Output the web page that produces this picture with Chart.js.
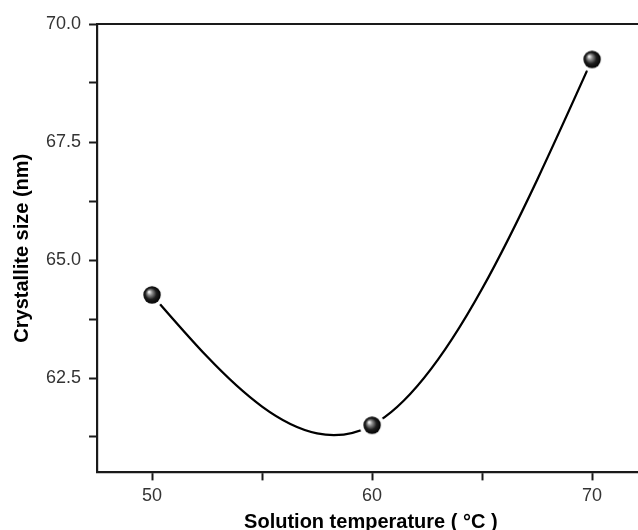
<!DOCTYPE html>
<html>
<head>
<meta charset="utf-8">
<script src="https://cdn.jsdelivr.net/npm/chart.js@4"></script>
<style>
  html, body { margin: 0; padding: 0; background: #fff; overflow: hidden; }
  #wrap { width: 656px; height: 530px; }
</style>
</head>
<body>
<div id="wrap"><canvas id="chart" width="656" height="530"></canvas></div>
<script>
// data
const temperatures = [50, 60, 70];
const crystalliteSizes = [64.26, 61.5, 69.25];

// tick positions (major ones get a label)
const xTickValues = [50, 55, 60, 65, 70];
const xTickLabels = [50, 60, 70];
const yTickValues = [61.25, 62.5, 63.75, 65, 66.25, 67.5, 68.75, 70];
const yTickLabels = [62.5, 65, 67.5, 70];

// black glossy ball with a white ring (so the curve stops short of it)
function makeBall() {
    const c = document.createElement('canvas');
    c.width = 26; c.height = 26;
    const g = c.getContext('2d');
    g.fillStyle = '#fff';
    g.beginPath(); g.arc(13, 13, 12.5, 0, Math.PI * 2); g.fill();
    const grad = g.createRadialGradient(10, 10, 0.5, 13, 13, 9);
    grad.addColorStop(0, '#f2f2f2');
    grad.addColorStop(0.25, '#8a8a8a');
    grad.addColorStop(0.6, '#1e1e1e');
    grad.addColorStop(1, '#000');
    g.fillStyle = grad;
    g.beginPath(); g.arc(13, 13, 8.7, 0, Math.PI * 2); g.fill();
    return c;
}

// slopes of a natural cubic spline through the data (x, y in data units)
function splineSlopes(xs, ys) {
    const n = xs.length;
    const h = [], M = new Array(n).fill(0);
    for (let i = 0; i < n - 1; i++) h.push(xs[i + 1] - xs[i]);
    // tridiagonal solve for inner second derivatives, M[0] = M[n-1] = 0
    const a = [], b = [], c = [], d = [];
    for (let i = 1; i < n - 1; i++) {
        a.push(h[i - 1]);
        b.push(2 * (h[i - 1] + h[i]));
        c.push(h[i]);
        d.push(6 * ((ys[i + 1] - ys[i]) / h[i] - (ys[i] - ys[i - 1]) / h[i - 1]));
    }
    const m = b.length;
    for (let i = 1; i < m; i++) {
        const w = a[i] / b[i - 1];
        b[i] -= w * c[i - 1];
        d[i] -= w * d[i - 1];
    }
    for (let i = m - 1; i >= 0; i--) {
        M[i + 1] = (d[i] - (i < m - 1 ? c[i] * M[i + 2] : 0)) / b[i];
    }
    const s = [];
    for (let i = 0; i < n - 1; i++) {
        s.push((ys[i + 1] - ys[i]) / h[i] - h[i] * (2 * M[i] + M[i + 1]) / 6);
    }
    s.push((ys[n - 1] - ys[n - 2]) / h[n - 2] + h[n - 2] * (M[n - 2] + 2 * M[n - 1]) / 6);
    return s;
}

// replace Chart.js bezier handles by the natural spline ones
const splineCurve = {
    id: 'splineCurve',
    beforeDatasetDraw(chart, args) {
        const meta = args.meta;
        const xs = chart.scales.x, ys = chart.scales.y;
        meta.dataset.updateControlPoints(chart.chartArea, 'x');
        const pts = meta.data;
        const slopes = splineSlopes(temperatures, crystalliteSizes);
        for (let i = 0; i < pts.length; i++) {
            if (i < pts.length - 1) {
                const h3 = (temperatures[i + 1] - temperatures[i]) / 3;
                pts[i].cp2x = xs.getPixelForValue(temperatures[i] + h3);
                pts[i].cp2y = ys.getPixelForValue(crystalliteSizes[i] + slopes[i] * h3);
            }
            if (i > 0) {
                const h3 = (temperatures[i] - temperatures[i - 1]) / 3;
                pts[i].cp1x = xs.getPixelForValue(temperatures[i] - h3);
                pts[i].cp1y = ys.getPixelForValue(crystalliteSizes[i] - slopes[i] * h3);
            }
        }
        meta.dataset._path = undefined;
    }
};

// top frame line
const topFrame = {
    id: 'topFrame',
    afterDraw(chart) {
        const { ctx, chartArea } = chart;
        ctx.save();
        ctx.strokeStyle = '#1a1a1a';
        ctx.lineWidth = 2.2;
        ctx.beginPath();
        ctx.moveTo(chartArea.left - 1, chartArea.top);
        ctx.lineTo(chart.width, chartArea.top);
        ctx.stroke();
        ctx.restore();
    }
};

const tickFont = { family: 'Liberation Sans, Arial, sans-serif', size: 18, lineHeight: 1.2 };
const titleFont = { family: 'Liberation Sans, Arial, sans-serif', size: 20, weight: 'bold', lineHeight: 1 };

new Chart(document.getElementById('chart').getContext('2d'), {
    type: 'line',
    data: {
        datasets: [{
            data: temperatures.map((t, i) => ({ x: t, y: crystalliteSizes[i] })),
            borderColor: '#000',
            borderWidth: 2.3,
            tension: 0.4,
            fill: false,
            pointStyle: makeBall(),
            pointRadius: 9
        }]
    },
    options: {
        responsive: false,
        animation: false,
        layout: { padding: { left: 12, top: 24, right: 0, bottom: 0 } },
        plugins: { legend: { display: false }, tooltip: { enabled: false } },
        scales: {
            x: {
                type: 'linear',
                min: 47.5,
                max: 72.39,
                afterBuildTicks: (axis) => { axis.ticks = xTickValues.map(v => ({ value: v })); },
                ticks: {
                    autoSkip: false,
                    maxRotation: 0,
                    padding: 5,
                    color: '#333',
                    font: tickFont,
                    callback: (v) => xTickLabels.includes(v) ? String(v) : ''
                },
                grid: { drawOnChartArea: false, tickLength: 8, tickWidth: 2, tickColor: '#1a1a1a' },
                border: { display: true, color: '#1a1a1a', width: 2.2 },
                title: { display: true, text: 'Solution temperature ( °C )', color: '#000', font: titleFont, padding: { top: 0, bottom: -2 } }
            },
            y: {
                type: 'linear',
                min: 60.5,
                max: 70,
                afterBuildTicks: (axis) => { axis.ticks = yTickValues.map(v => ({ value: v })); },
                ticks: {
                    autoSkip: false,
                    padding: 8,
                    color: '#333',
                    font: tickFont,
                    callback: (v) => yTickLabels.includes(v) ? v.toFixed(1) : ''
                },
                grid: { drawOnChartArea: false, tickLength: 8, tickWidth: 2, tickColor: '#1a1a1a' },
                border: { display: true, color: '#1a1a1a', width: 2.2 },
                title: { display: true, text: 'Crystallite size (nm)', color: '#000', font: titleFont, padding: { top: 0, bottom: 6 } }
            }
        }
    },
    plugins: [splineCurve, topFrame]
});
</script>
</body>
</html>
